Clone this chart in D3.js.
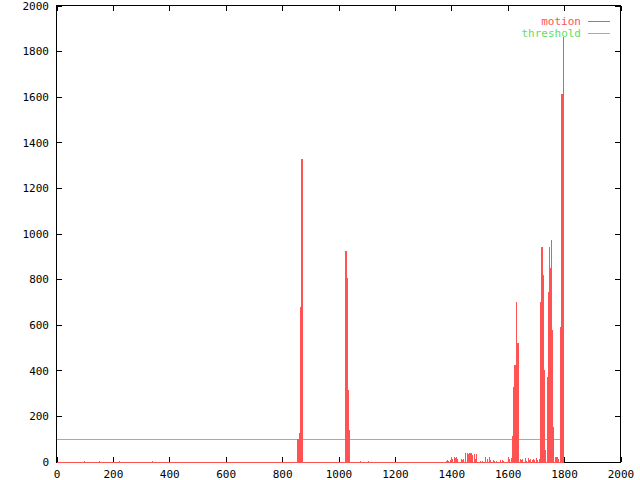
<!DOCTYPE html>
<html>
<head>
<meta charset="utf-8">
<script src="https://cdn.jsdelivr.net/npm/d3@7"></script>
<style>
  body { margin: 0; background: #fff; }
  text { font-family: "DejaVu Sans Mono", monospace; font-size: 11px; }
</style>
</head>
<body>
<div id="chart"></div>
<script>
// axis ticks
const xTicks = [0, 200, 400, 600, 800, 1000, 1200, 1400, 1600, 1800, 2000];
const yTicks = [0, 200, 400, 600, 800, 1000, 1200, 1400, 1600, 1800, 2000];

// motion series: frame numbers and motion values (only non-zero frames listed)
const motionFrames = [
  96, 152, 223, 337,
  854, 855, 856, 857, 858, 859, 860, 861, 862, 863, 864, 865, 866, 868, 869,
  1024, 1025, 1026, 1027, 1028, 1029, 1030, 1031, 1032, 1033, 1034, 1035, 1036, 1037, 1038, 1039,
  1075, 1103,
  1382, 1386, 1390, 1395, 1400, 1404, 1408, 1412, 1416, 1420, 1433, 1437, 1441, 1447,
  1450, 1454, 1458, 1462, 1466, 1470, 1474, 1480, 1484, 1488, 1500, 1510, 1521, 1525,
  1533, 1537, 1547, 1552, 1559, 1574, 1580, 1585, 1600, 1605, 1610,
  1613, 1617, 1620, 1621, 1624, 1625, 1628, 1630, 1631, 1634, 1635, 1638, 1642, 1648,
  1652, 1660, 1665, 1672, 1676, 1680, 1685, 1690, 1695, 1700, 1705, 1710,
  1716, 1719, 1720, 1723, 1724, 1727, 1730, 1734, 1738, 1741, 1744, 1745, 1748, 1749,
  1752, 1753, 1755, 1756, 1759, 1762, 1766, 1770, 1775, 1780, 1784, 1787, 1788, 1790, 1791, 1795, 1797
];
const motionValues = [
  5, 4, 5, 5,
  100, 100, 100, 45, 45, 128, 128, 128, 128, 681, 681, 681, 681, 1329, 1329,
  927, 927, 927, 806, 806, 806, 316, 316, 316, 200, 200, 200, 140, 140, 140, 140,
  5, 5,
  5, 8, 6, 8, 22, 15, 22, 18, 20, 12, 13, 10, 13, 8,
  38, 40, 35, 41, 38, 41, 30, 35, 12, 35, 5, 6, 23, 15,
  20, 10, 8, 6, 5, 10, 8, 6, 20, 12, 9,
  16, 114, 330, 330, 425, 425, 300, 700, 700, 520, 520, 127, 15, 8,
  12, 16, 5, 18, 10, 12, 8, 15, 10, 18, 8, 14,
  703, 944, 944, 820, 820, 403, 118, 52, 150, 374, 747, 747, 944, 850,
  973, 973, 680, 580, 155, 155, 23, 20, 23, 15, 145, 593, 593, 1612, 1612, 1865, 5
];
const motionLastFrame = 1797;

// threshold series
const thresholdValue = 100;
const thresholdFrames = [0, 1797];

const W = 640, H = 480;
const plotLeft = 57, plotRight = 621, plotTop = 6, plotBottom = 462;
const red = "#ff5252", green = "#5ee05e";

const svg = d3.select("#chart").append("svg")
  .attr("width", W).attr("height", H);

const x = d3.scaleLinear().domain([0, 2000]).range([plotLeft, plotRight]);
const y = d3.scaleLinear().domain([0, 2000]).range([plotBottom, plotTop]);
const col = v => Math.floor(v) + 0.5;

// frame border
svg.append("rect")
  .attr("x", 56.5).attr("y", 5.5)
  .attr("width", 564).attr("height", 457)
  .attr("fill", "none").attr("stroke", "#000").attr("shape-rendering", "crispEdges");

// ticks (inward, mirrored)
const tl = 5;
const ticks = svg.append("g").attr("stroke", "#000").attr("shape-rendering", "crispEdges");
xTicks.forEach(t => {
  const px = col(x(t));
  ticks.append("line").attr("x1", px).attr("x2", px).attr("y1", 462).attr("y2", 462 - tl);
  ticks.append("line").attr("x1", px).attr("x2", px).attr("y1", 6).attr("y2", 6 + tl);
});
yTicks.forEach(t => {
  const py = col(y(t));
  ticks.append("line").attr("x1", 57).attr("x2", 57 + tl).attr("y1", py).attr("y2", py);
  ticks.append("line").attr("x1", 620).attr("x2", 620 - tl).attr("y1", py).attr("y2", py);
});

// tick labels
svg.selectAll(".xl").data(xTicks).enter().append("text")
  .attr("x", d => x(d)).attr("y", 478)
  .attr("text-anchor", "middle").text(d => d);
svg.selectAll(".yl").data(yTicks).enter().append("text")
  .attr("x", 49).attr("y", d => y(d)).attr("dy", "0.35em")
  .attr("text-anchor", "end").text(d => d);

// threshold line
svg.append("line")
  .attr("x1", x(thresholdFrames[0])).attr("x2", x(thresholdFrames[1]))
  .attr("y1", col(y(thresholdValue))).attr("y2", col(y(thresholdValue)))
  .attr("stroke", green).attr("shape-rendering", "crispEdges");

// motion impulses + zero baseline
let d = `M${x(0)},${plotBottom + 0.5}H${x(motionLastFrame)}`;
motionFrames.forEach((f, i) => {
  const px = col(x(f));
  d += `M${px},${plotBottom + 1}V${y(motionValues[i])}`;
});
svg.append("path").attr("d", d)
  .attr("fill", "none").attr("stroke", red).attr("stroke-width", 1)
  .attr("shape-rendering", "crispEdges");

// legend
const legend = [
  { name: "motion", color: red, yy: 21 },
  { name: "threshold", color: green, yy: 33 }
];
legend.forEach(l => {
  svg.append("text").attr("x", 581).attr("y", l.yy).attr("dy", "0.35em")
    .attr("text-anchor", "end").attr("fill", l.color).text(l.name);
  svg.append("line").attr("x1", 588).attr("x2", 610)
    .attr("y1", l.yy + 0.5).attr("y2", l.yy + 0.5)
    .attr("stroke", l.color).attr("shape-rendering", "crispEdges");
});
</script>
</body>
</html>
